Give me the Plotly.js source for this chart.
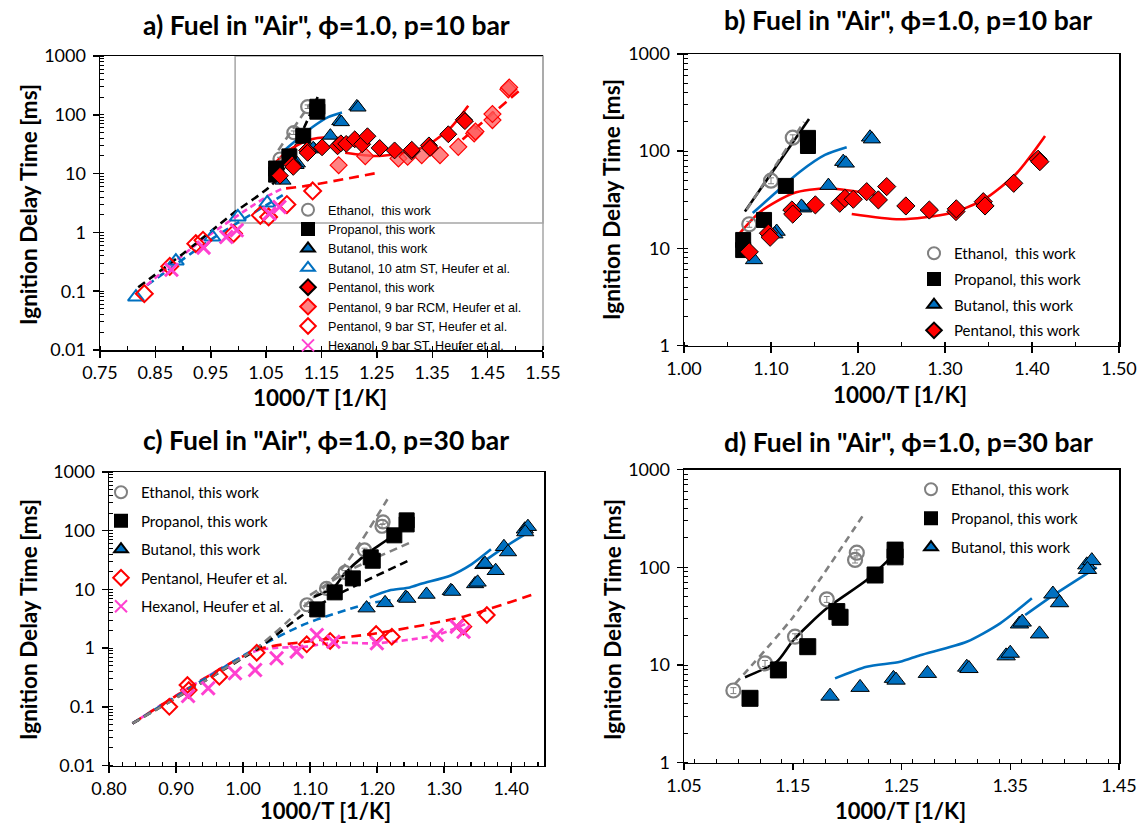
<!DOCTYPE html>
<html><head><meta charset="utf-8">
<script src="https://cdn.plot.ly/plotly-3.0.1.min.js"></script>
<style>html,body{margin:0;padding:0;background:#fff}#chart{width:1138px;height:826px}</style>
</head><body><div id="chart"></div>
<script>
// ================= DATA =================
// ---- 10 bar, this work ----
const eth10X = [1.075, 1.100, 1.125];
const eth10Y = [17.7, 49.7, 137.6];
const prop10X = [1.068, 1.068, 1.092, 1.117, 1.1425, 1.1425];
const prop10Y = [12.2, 9.6, 19.6, 43.9, 137, 113];
const but10X = [1.0805, 1.1065, 1.104, 1.137, 1.135, 1.166, 1.183, 1.186, 1.2138, 1.216];
const but10Y = [7.6, 14.9, 14.0, 25.9, 27.0, 44.2, 78, 75, 139, 133];
const pent10X = [1.075, 1.097, 1.099, 1.124, 1.125, 1.151, 1.179, 1.185, 1.1946, 1.21, 1.2234, 1.233, 1.255, 1.282, 1.3126, 1.313, 1.344, 1.346, 1.379, 1.407, 1.409];
const pent10Y = [9.2, 14.3, 13.0, 24.8, 22.5, 28.0, 29.1, 32.7, 32.0, 38.3, 31.5, 43.2, 27.3, 24.8, 23.9, 25.5, 30.2, 27.3, 46.7, 82.6, 78];
// ---- 10 bar, Heufer et al. ----
const butST10X = [0.8149, 0.887, 0.953, 0.999, 1.052];
const butST10Y = [0.0794, 0.326, 0.835, 1.83, 3.17];
const pentRCM9X = [1.181, 1.229, 1.289, 1.3055, 1.331, 1.364, 1.397, 1.4257, 1.428, 1.4587, 1.4587, 1.4875, 1.489];
const pentRCM9Y = [13.9, 19.8, 18.1, 19.3, 20.6, 20.6, 28.5, 48.2, 52, 81.3, 103, 271, 292];
const pentST9X = [0.83, 0.876, 0.923, 0.936, 0.991, 1.0395, 1.0545, 1.0875, 1.134];
const pentST9Y = [0.0906, 0.264, 0.644, 0.733, 0.955, 1.95, 1.83, 2.98, 5.07];
const hexST9X = [0.879, 0.937, 0.978, 0.997, 1.056, 1.074];
const hexST9Y = [0.232, 0.55, 0.835, 1.09, 2.09, 2.71];
// ---- 10 bar model curves ----
const mRed1X = [1.0606, 1.0874, 1.1256, 1.164, 1.21, 1.225];
const mRed1Y = [13.2, 23.7, 36.9, 41.5, 36.9, 34.6];
const mRed2X = [1.1928, 1.248, 1.3057, 1.344, 1.3824, 1.415];
const mRed2Y = [22.6, 19.9, 23, 31.5, 59.3, 143];
const mBlue10X = [1.079, 1.1065, 1.1333, 1.162, 1.187];
const mBlue10Y = [23.1, 38.3, 61.5, 91.5, 109.6];
const mBlack10X = [1.070, 1.1437];
const mBlack10Y = [23.9, 214];
const mGray10X = [1.072, 1.138];
const mGray10Y = [25, 200];
const aBlackDashX = [0.819, 0.90, 0.990, 1.068, 1.1446];
const aBlackDashY = [0.117, 0.435, 2.09, 7.7, 217];
const aBlueDashX = [0.835, 0.95, 1.08];
const aBlueDashY = [0.126, 0.75, 4.3];
const aMagDashX = [0.834, 0.930, 1.050, 1.08];
const aMagDashY = [0.126, 0.687, 4.0, 5.6];
const aRedDash1X = [1.086, 1.128, 1.251];
const aRedDash1Y = [5.6, 6.3, 10.3];
const aRedDash2X = [1.4046, 1.51];
const aRedDash2Y = [38.1, 271];
// ---- 30 bar, this work ----
const eth30X = [1.0954, 1.1245, 1.1521, 1.1813, 1.2089, 1.2073];
const eth30Y = [5.48, 10.4, 19.5, 47, 141, 119];
const prop30X = [1.1107, 1.1368, 1.1638, 1.1905, 1.1935, 1.2257, 1.2441, 1.2441];
const prop30Y = [4.56, 8.9, 15.4, 35.2, 30.8, 83.4, 150, 128];
const but30X = [1.1843, 1.2119, 1.2426, 1.245, 1.2738, 1.31, 1.312, 1.3462, 1.35, 1.3585, 1.361, 1.3769, 1.3892, 1.3953, 1.4204, 1.425, 1.421];
const but30Y = [4.8, 5.9, 7.3, 7.0, 8.2, 9.5, 9.2, 12.4, 13.2, 26.3, 27.5, 20.8, 53.3, 43.4, 106, 117, 95];
// ---- 30 bar, Heufer et al. ----
const pent30X = [0.89, 0.917, 0.919, 0.9646, 1.0204, 1.095, 1.13, 1.1985, 1.222, 1.3288, 1.3637];
const pent30Y = [0.1, 0.235, 0.193, 0.326, 0.835, 1.16, 1.32, 1.74, 1.56, 2.32, 3.66];
const hex30X = [0.918, 0.948, 0.988, 1.018, 1.050, 1.080, 1.110, 1.1348, 1.1996, 1.289, 1.3189, 1.329];
const hex30Y = [0.153, 0.207, 0.372, 0.424, 0.67, 0.869, 1.67, 1.28, 1.21, 1.67, 2.32, 1.9];
// ---- 30 bar model curves ----
const cGrayAX = [0.835, 1.02, 1.085, 1.15, 1.2154];
const cGrayAY = [0.052, 1.0, 4.45, 24.4, 343];
const cGrayBX = [1.10, 1.16, 1.249];
const cGrayBY = [8, 21.4, 62.5];
const cBlackDashX = [0.835, 1.02, 1.085, 1.1348, 1.249];
const cBlackDashY = [0.052, 0.95, 3.4, 7.5, 31.7];
const mBlack30X = [1.1061, 1.1353, 1.1506, 1.1813, 1.218, 1.241];
const mBlack30Y = [7.5, 10.8, 18, 38, 74.1, 128];
const cBlueDashX = [0.835, 1.02, 1.095, 1.1896, 1.22];
const cBlueDashY = [0.052, 1.0, 2.64, 5.8, 6.5];
const mBlue30X = [1.1889, 1.218, 1.2487, 1.2671, 1.31, 1.3407, 1.3699];
const mBlue30Y = [7.3, 9.6, 10.8, 12.6, 17.3, 26.7, 48.2];
const mBlue30bX = [1.3637, 1.3898, 1.4296];
const mBlue30bY = [32.5, 52, 100];
const cRedDashX = [0.835, 1.0204, 1.095, 1.1996, 1.3288, 1.43];
const cRedDashY = [0.052, 0.93, 1.29, 1.79, 3.43, 8.03];
const cMagDashX = [0.835, 1.02, 1.095, 1.1348, 1.2, 1.289, 1.3339];
const cMagDashY = [0.052, 0.9, 1.06, 1.24, 1.21, 1.67, 2.64];
const dGrayX = [1.0969, 1.1506, 1.2159];
const dGrayY = [6.4, 31.2, 357];
// ---- tick labels ----
const yTicksWide = [0.01, 0.1, 1, 10, 100, 1000];
const yTextWide = ['0.01', '0.1', '1', '10', '100', '1000'];
const yTicksNarrow = [1, 10, 100, 1000];
const yTextNarrow = ['1', '10', '100', '1000'];
const titleA = 'a) Fuel in "Air", ϕ=1.0, p=10 bar';
const titleB = 'b) Fuel in "Air", ϕ=1.0, p=10 bar';
const titleC = 'c) Fuel in "Air", ϕ=1.0, p=30 bar';
const titleD = 'd) Fuel in "Air", ϕ=1.0, p=30 bar';
const yTitle = 'Ignition Delay Time [ms]';
const xTitle = '1000/T [1/K]';

// ================= STYLE =================
const FONT = 'Lato, "Liberation Sans", sans-serif';
const FONT_LEG_A = '"Liberation Sans", Arial, sans-serif';
const GRAY = '#808080', BLUE = '#0070C0', RED = '#FF0000', MAG = '#FF40D0', BLACK = '#000000';

function ln(x, y, color, dash, xa, ya, w) {
  return {type: 'scatter', mode: 'lines', x: x, y: y, xaxis: xa, yaxis: ya,
    line: {color: color, width: w || 2.6, dash: dash, shape: 'spline', smoothing: 0.7},
    showlegend: false, hoverinfo: 'skip'};
}
function mk(x, y, name, marker, xa, ya, leg, grp, rank, err) {
  const t = {type: 'scatter', mode: 'markers', x: x, y: y, name: name, xaxis: xa, yaxis: ya,
    marker: marker, legend: leg, legendgroup: grp, legendrank: rank, showlegend: !!name};
  if (err) t.error_y = {type: 'percent', value: 7, color: err, thickness: 1, width: 3};
  return t;
}
const sEth = s => ({symbol: 'circle-open', size: s, color: GRAY, line: {color: GRAY, width: 2.2}});
const sProp = s => ({symbol: 'square', size: s, color: BLACK, line: {color: BLACK, width: 1}});
const sBut = s => ({symbol: 'triangle-up', size: s, color: BLUE, line: {color: BLACK, width: 1}});
const sPent = s => ({symbol: 'diamond', size: s, color: RED, line: {color: BLACK, width: 1}});
const sButOpen = s => ({symbol: 'triangle-up-open', size: s, color: BLUE, line: {color: BLUE, width: 2}});
const sPentOpen = s => ({symbol: 'diamond-open', size: s, color: RED, line: {color: RED, width: 2}});
const sPentRCM = s => ({symbol: 'diamond', size: s, color: 'rgba(255,90,90,0.75)', line: {color: RED, width: 1.2}});
const sHex = s => ({symbol: 'x-thin', size: s, color: MAG, line: {color: MAG, width: 3}});

const traces = [];
// ---------- panel a ----------
traces.push(ln(aBlueDashX, aBlueDashY, BLUE, '8px,5px', 'x', 'y'));
traces.push(ln(aMagDashX, aMagDashY, MAG, '6px,4px', 'x', 'y'));
traces.push(ln(aBlackDashX, aBlackDashY, BLACK, '8px,5px', 'x', 'y'));
traces.push(ln(mGray10X, mGray10Y, GRAY, '8px,5px', 'x', 'y'));
traces.push(ln(aRedDash1X, aRedDash1Y, RED, '10px,6px', 'x', 'y'));
traces.push(ln(aRedDash2X, aRedDash2Y, RED, '10px,6px', 'x', 'y'));
traces.push(ln(mBlue10X, mBlue10Y, BLUE, 'solid', 'x', 'y'));
traces.push(ln(mRed1X, mRed1Y, RED, 'solid', 'x', 'y'));
traces.push(ln(mRed2X, mRed2Y, RED, 'solid', 'x', 'y'));
traces.push(mk(butST10X, butST10Y, 'Butanol, 10 atm ST, Heufer et al.', sButOpen(14), 'x', 'y', 'legend', 'a4', 4));
traces.push(mk(pentST9X, pentST9Y, 'Pentanol, 9 bar ST, Heufer et al.', sPentOpen(13), 'x', 'y', 'legend', 'a7', 7));
traces.push(mk(hexST9X, hexST9Y, 'Hexanol, 9 bar ST, Heufer et al.', sHex(13), 'x', 'y', 'legend', 'a8', 8));
traces.push(mk(pentRCM9X, pentRCM9Y, 'Pentanol, 9 bar RCM, Heufer et al.', sPentRCM(13), 'x', 'y', 'legend', 'a6', 6));
traces.push(mk(eth10X, eth10Y, 'Ethanol,  this work', sEth(13), 'x', 'y', 'legend', 'a1', 1, GRAY));
traces.push(mk(prop10X, prop10Y, 'Propanol, this work', sProp(15), 'x', 'y', 'legend', 'a2', 2));
traces.push(mk(but10X, but10Y, 'Butanol, this work', sBut(14), 'x', 'y', 'legend', 'a3', 3, BLACK));
traces.push(mk(pent10X, pent10Y, 'Pentanol, this work', sPent(13), 'x', 'y', 'legend', 'a5', 5, BLACK));
// ---------- panel b ----------
traces.push(ln(mBlack10X, mBlack10Y, BLACK, 'solid', 'x2', 'y2'));
traces.push(ln(mGray10X, mGray10Y, GRAY, '8px,5px', 'x2', 'y2'));
traces.push(ln(mBlue10X, mBlue10Y, BLUE, 'solid', 'x2', 'y2'));
traces.push(ln(mRed1X, mRed1Y, RED, 'solid', 'x2', 'y2'));
traces.push(ln(mRed2X, mRed2Y, RED, 'solid', 'x2', 'y2'));
traces.push(mk(eth10X, eth10Y, 'Ethanol,  this work', sEth(14), 'x2', 'y2', 'legend2', 'b1', 1, GRAY));
traces.push(mk(prop10X, prop10Y, 'Propanol, this work', sProp(15), 'x2', 'y2', 'legend2', 'b2', 2));
traces.push(mk(but10X, but10Y, 'Butanol, this work', sBut(15), 'x2', 'y2', 'legend2', 'b3', 3, BLACK));
traces.push(mk(pent10X, pent10Y, 'Pentanol, this work', sPent(14), 'x2', 'y2', 'legend2', 'b4', 4, BLACK));
// ---------- panel c ----------
traces.push(ln(cMagDashX, cMagDashY, MAG, '6px,4px', 'x3', 'y3'));
traces.push(ln(cRedDashX, cRedDashY, RED, '10px,6px', 'x3', 'y3'));
traces.push(ln(cBlueDashX, cBlueDashY, BLUE, '8px,5px', 'x3', 'y3'));
traces.push(ln(cBlackDashX, cBlackDashY, BLACK, '8px,5px', 'x3', 'y3'));
traces.push(ln(cGrayAX, cGrayAY, GRAY, '8px,5px', 'x3', 'y3'));
traces.push(ln(cGrayBX, cGrayBY, GRAY, '8px,5px', 'x3', 'y3'));
traces.push(ln(mBlack30X, mBlack30Y, BLACK, 'solid', 'x3', 'y3'));
traces.push(ln(mBlue30X, mBlue30Y, BLUE, 'solid', 'x3', 'y3'));
traces.push(ln(mBlue30bX, mBlue30bY, BLUE, 'solid', 'x3', 'y3'));
traces.push(mk(pent30X, pent30Y, 'Pentanol, Heufer et al.', sPentOpen(12), 'x3', 'y3', 'legend3', 'c4', 4));
traces.push(mk(hex30X, hex30Y, 'Hexanol, Heufer et al.', sHex(13), 'x3', 'y3', 'legend3', 'c5', 5));
traces.push(mk(eth30X, eth30Y, 'Ethanol, this work', sEth(13), 'x3', 'y3', 'legend3', 'c1', 1, GRAY));
traces.push(mk(prop30X, prop30Y, 'Propanol, this work', sProp(15), 'x3', 'y3', 'legend3', 'c2', 2));
traces.push(mk(but30X, but30Y, 'Butanol, this work', sBut(15), 'x3', 'y3', 'legend3', 'c3', 3, BLACK));
// ---------- panel d ----------
traces.push(ln(dGrayX, dGrayY, GRAY, '7px,5px', 'x4', 'y4'));
traces.push(ln(mBlack30X, mBlack30Y, BLACK, 'solid', 'x4', 'y4'));
traces.push(ln(mBlue30X, mBlue30Y, BLUE, 'solid', 'x4', 'y4'));
traces.push(ln(mBlue30bX, mBlue30bY, BLUE, 'solid', 'x4', 'y4'));
traces.push(mk(eth30X, eth30Y, 'Ethanol, this work', sEth(14), 'x4', 'y4', 'legend4', 'd1', 1, GRAY));
traces.push(mk(prop30X, prop30Y, 'Propanol, this work', sProp(16), 'x4', 'y4', 'legend4', 'd2', 2));
traces.push(mk(but30X, but30Y, 'Butanol, this work', sBut(16), 'x4', 'y4', 'legend4', 'd3', 3, BLACK));

// ================= LAYOUT =================
const W = 1138, H = 826;
const px = v => v / W, py = v => 1 - v / H;
const tickFont = {family: FONT, size: 18, color: '#000'};

function xax(l, r, range, tick0, minorD, anchor, mirror) {
  return {domain: [px(l), px(r)], range: range, anchor: anchor, tick0: tick0, dtick: 0.1,
    tickformat: '.2f', ticks: 'outside', ticklen: 6, tickwidth: 1.5, tickcolor: '#000',
    showline: true, linecolor: '#000', linewidth: 1.5, mirror: mirror, showgrid: false, zeroline: false,
    tickfont: tickFont, fixedrange: true,
    minor: {dtick: minorD, ticks: 'inside', ticklen: 4, tickwidth: 1.2, tickcolor: '#000', showgrid: false}};
}
function yax(top, bot, range, vals, text, anchor, mirror) {
  return {domain: [py(bot), py(top)], type: 'log', range: range, anchor: anchor,
    tickmode: 'array', tickvals: vals, ticktext: text,
    ticks: 'outside', ticklen: 6, tickwidth: 1.5, tickcolor: '#000',
    showline: true, linecolor: '#000', linewidth: 1.5, mirror: mirror, showgrid: false, zeroline: false,
    tickfont: tickFont, fixedrange: true, ticklabelstandoff: 3,
    minor: {dtick: 'D1', ticks: 'inside', ticklen: 4, tickwidth: 1, tickcolor: '#000', showgrid: false}};
}
function legendBox(x, y, size, gap, fam) {
  return {x: x, y: y, xanchor: 'left', yanchor: 'top', bgcolor: 'rgba(0,0,0,0)', borderwidth: 0,
    font: {family: fam || FONT, size: size, color: '#000'}, traceorder: 'grouped', tracegroupgap: gap,
    itemsizing: 'constant', itemclick: false, itemdoubleclick: false};
}
function ann(text, x, y, size, angle) {
  return {text: '<b>' + text + '</b>', x: x, y: y, xref: 'paper', yref: 'paper', showarrow: false,
    xanchor: 'center', yanchor: 'middle', textangle: angle || 0,
    font: {family: FONT, size: size, color: '#000'}};
}

const layout = {
  width: W, height: H, margin: {l: 0, r: 0, t: 0, b: 0},
  paper_bgcolor: '#fff', plot_bgcolor: '#fff', showlegend: true,
  font: {family: FONT, color: '#000'},
  xaxis: xax(100, 543, [0.75, 1.55], 0.75, 0.05, 'y', true),
  yaxis: yax(56, 350, [-2, 3], yTicksWide, yTextWide, 'x', false),
  xaxis2: xax(684, 1119, [1.0, 1.5], 1.0, 0.05, 'y2', true),
  yaxis2: yax(54, 345.5, [0, 3], yTicksNarrow, yTextNarrow, 'x2', true),
  xaxis3: xax(109, 544, [0.8, 1.449], 0.8, 0.02, 'y3', true),
  yaxis3: yax(472, 765.5, [-2, 3], yTicksWide, yTextWide, 'x3', true),
  xaxis4: xax(684, 1119, [1.05, 1.45], 1.05, 0.02, 'y4', true),
  yaxis4: yax(469.6, 762.7, [0, 3], yTicksNarrow, yTextNarrow, 'x4', true),
  legend: Object.assign(legendBox(px(288), py(195), 12.6, 0, FONT_LEG_A), {traceorder: 'normal'}),
  legend2: legendBox(px(914), py(237), 15, 3.2),
  legend3: legendBox(px(101), py(476), 15, 6),
  legend4: legendBox(px(911), py(473), 15, 6.5),
  shapes: [
    {type: 'rect', xref: 'x domain', yref: 'y domain', x0: 0.305, x1: 1, y0: 0.432, y1: 1,
      line: {color: '#A6A6A6', width: 1.5}, layer: 'below'},
    {type: 'line', xref: 'x domain', yref: 'y domain', x0: 1, x1: 1, y0: 0, y1: 1,
      line: {color: '#A6A6A6', width: 1.5}, layer: 'below'}
  ],
  annotations: [
    ann(titleA, px(326), py(25), 26.5),
    ann(titleB, px(908), py(20), 26.5),
    ann(titleC, px(326), py(440), 26.5),
    ann(titleD, px(908), py(442), 26.5),
    ann(yTitle, px(28), py(205), 22.5, -90),
    ann(yTitle, px(612), py(200), 22.5, -90),
    ann(yTitle, px(28), py(620), 22.5, -90),
    ann(yTitle, px(612), py(620), 22.5, -90),
    ann(xTitle, px(320), py(397), 22.5),
    ann(xTitle, px(900), py(394), 22.5),
    ann(xTitle, px(325), py(810), 22),
    ann(xTitle, px(900), py(810), 22)
  ]
};
Plotly.newPlot('chart', traces, layout, {displayModeBar: false, staticPlot: true});
</script></body></html>
